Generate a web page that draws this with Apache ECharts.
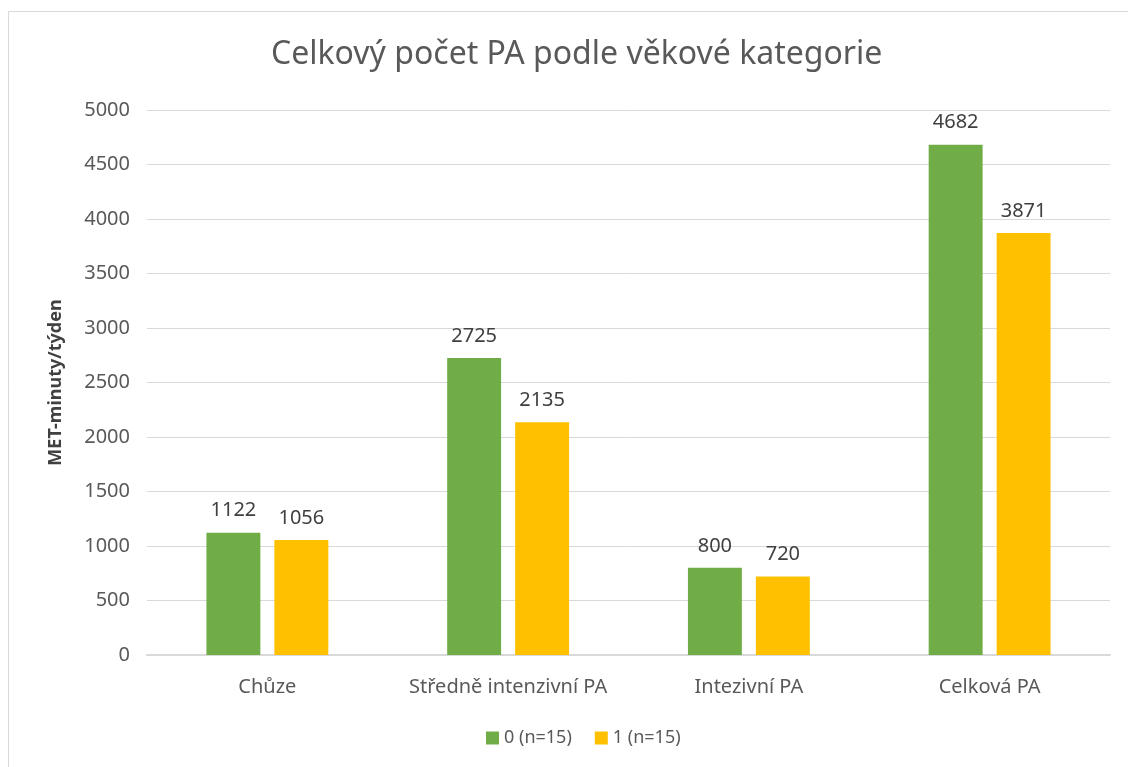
<!DOCTYPE html>
<html>
<head>
<meta charset="utf-8">
<script src="https://cdn.jsdelivr.net/npm/echarts@6/dist/echarts.min.js"></script>
<style>
  html, body { margin: 0; padding: 0; background: #fff; }
  #chart { width: 1128px; height: 767px; }
</style>
</head>
<body>
<div id="chart"></div>
<script>
let chart = echarts.init(document.getElementById('chart'));

// data
let categories = ['Chůze', 'Středně intenzivní PA', 'Intezivní PA', 'Celková PA'];
let series_names = ['0 (n=15)', '1 (n=15)'];
let values_0 = [1122, 2725, 800, 4682];
let values_1 = [1056, 2135, 720, 3871];
let colors = ['#70AD47', '#FFC000'];

let font = '"Noto Sans", sans-serif';

function make_series(name, data, color) {
    return {
        name: name,
        type: 'bar',
        data: data,
        barWidth: '22.4%',
        barGap: '26%',
        itemStyle: { color: color },
        label: {
            show: true,
            position: 'top',
            distance: 12,
            color: '#404040',
            fontSize: 20,
            fontFamily: font
        }
    };
}

let option = {
    animation: false,
    backgroundColor: '#fff',
    textStyle: { fontFamily: font },
    title: {
        text: 'Celkový počet PA podle věkové kategorie',
        left: 266,
        top: 34,
        textStyle: {
            color: '#595959',
            fontSize: 32,
            fontWeight: 'normal',
            fontFamily: font
        }
    },
    grid: {
        left: 147,
        right: 18,
        top: 110,
        bottom: 112
    },
    legend: {
        data: series_names,
        bottom: 15,
        left: 481,
        icon: 'rect',
        itemWidth: 13,
        itemHeight: 13,
        itemGap: 23,
        textStyle: { color: '#595959', fontSize: 18, fontFamily: font }
    },
    xAxis: {
        type: 'category',
        data: categories,
        axisLine: { lineStyle: { color: '#d9d9d9', width: 2 } },
        axisTick: { show: false },
        axisLabel: { color: '#595959', fontSize: 20, margin: 22, interval: 0, fontFamily: font }
    },
    yAxis: {
        type: 'value',
        min: 0,
        max: 5000,
        interval: 500,
        name: 'MET-minuty/týden',
        nameLocation: 'middle',
        nameGap: 82,
        nameTextStyle: { color: '#404040', fontSize: 18, fontWeight: 'bold', fontFamily: font },
        axisLine: { show: false },
        axisTick: { show: false },
        axisLabel: {
            color: '#595959',
            fontSize: 20,
            margin: 17,
            fontFamily: font,
            formatter: function (v) { return String(v); }
        },
        splitLine: { lineStyle: { color: '#d9d9d9', width: 1 } }
    },
    series: [
        make_series(series_names[0], values_0, colors[0]),
        make_series(series_names[1], values_1, colors[1])
    ],
    graphic: [
        {
            type: 'rect',
            shape: { x: 8.5, y: 11.5, width: 1140, height: 800 },
            style: { fill: 'none', stroke: '#d9d9d9', lineWidth: 1 },
            silent: true
        }
    ]
};

chart.setOption(option);
</script>
</body>
</html>
